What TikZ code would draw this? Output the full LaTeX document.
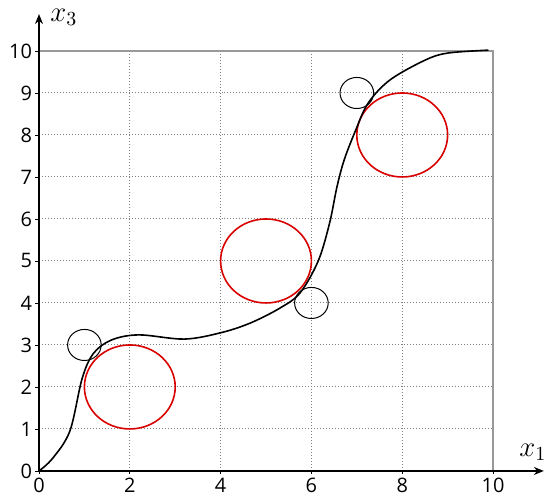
\documentclass[tikz,border=0pt]{standalone}
\usepackage{fontspec}
\setsansfont{Open Sans}
\usepackage{tikz}
\usetikzlibrary{arrows.meta}

\begin{document}
\begin{tikzpicture}[x=0.8cm,y=0.74cm,
  gridline/.style={gray,densely dotted,line width=0.5pt},
  axis/.style={-{Stealth[length=5pt,width=4pt]},line width=0.9pt},
  tick/.style={font=\sffamily\fontsize{10}{11}\selectfont,inner sep=1.5pt},
  big/.style={red!85!black,line width=0.8pt},
  small/.style={black,line width=0.5pt}]
  \useasboundingbox (-0.859,-0.714) rectangle (11.123,11.214);
  % grid and frame
  \foreach \y in {1,...,9} {\draw[gridline] (0,\y) -- (10,\y);}
  \foreach \x in {2,4,6,8} {\draw[gridline] (\x,0) -- (\x,10);}
  \draw[gray!80,line width=0.6pt] (0,10) -- (10,10) -- (10,0);
  % axes
  \draw[axis] (0,0) -- (11.12,0) coordinate (xend);
  \draw[axis] (0,0) -- (0,10.88) coordinate (yend);
  \node (xlab) at (10.88,0.45) {\Large $x_1$};
  \node (ylab) at (0.55,10.8) {\Large $x_3$};
  \foreach \y in {0,...,10} {\draw (0,\y) -- (-0.08,\y) node[tick,left] (ty\y) {\y};}
  \foreach \x in {0,2,...,10} {\draw (\x,0) -- (\x,-0.08) node[tick,below] (tx\x) {\x};}
  % circles
  \foreach \c in {(2,2),(5,5),(8,8)} {\draw[big] \c circle (1);}
  \foreach \c in {(1,3),(6,4),(7,9)} {\draw[small] \c circle (0.37);}
  % curve
  \draw[line width=0.8pt] plot[smooth,tension=0.55] coordinates {(0,0) (0.3,0.3) (0.68,0.95)
    (0.95,2.2) (1.2,2.8) (1.6,3.12) (2.2,3.24) (3.2,3.14) (4,3.29) (4.65,3.52) (5.31,3.88)
    (5.75,4.24) (6.15,5.0) (6.4,5.9) (6.56,6.75) (6.72,7.4) (6.97,8.1) (7.25,8.76)
    (7.73,9.31) (8.5,9.78) (9,9.95) (9.9,10.02)};
\end{tikzpicture}
\end{document}
